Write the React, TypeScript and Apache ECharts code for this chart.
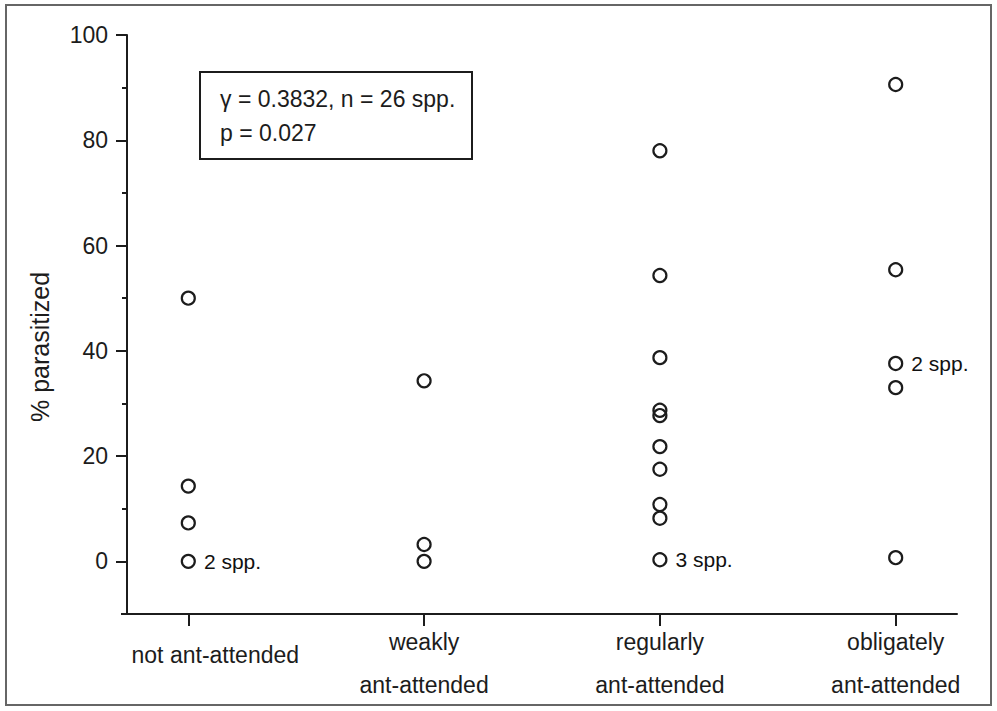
import React, { useEffect, useRef } from "react";
import * as echarts from "echarts";

// Categories (x positions 1..4)
const categories = [
  "not ant-attended",
  "weakly\nant-attended",
  "regularly\nant-attended",
  "obligately\nant-attended",
];

// % parasitized per species group
const notAttended = [50, 14.3, 7.3, 0];
const weakly = [34.3, 3.2, 0];
const regularly = [78, 54.3, 38.7, 28.7, 27.7, 21.8, 17.5, 10.8, 8.2, 0.3];
const obligately = [90.6, 55.4, 37.6, 33.0, 0.7];

// notes for points that stand for several species
const notAttendedNotes = ["", "", "", "2 spp."];
const weaklyNotes = ["", "", ""];
const regularlyNotes = ["", "", "", "", "", "", "", "", "", "3 spp."];
const obligatelyNotes = ["", "", "2 spp.", "", ""];

const yMajorTicks = [0, 20, 40, 60, 80, 100];
const xTickValues = [1, 2, 3, 4];

const statsLine1 = "γ = 0.3832, n = 26 spp.";
const statsLine2 = "p = 0.027";
const yAxisTitle = "% parasitized";

const FONT = '"Liberation Sans", Arial, Helvetica, sans-serif';
const INK = "#1c1c1c";

export default function App() {
  const ref = useRef<HTMLDivElement>(null);

  useEffect(() => {
    if (!ref.current) return;
    const chart = echarts.init(ref.current, null, { renderer: "svg" });

    const groups = [
      { vals: notAttended, notes: notAttendedNotes },
      { vals: weakly, notes: weaklyNotes },
      { vals: regularly, notes: regularlyNotes },
      { vals: obligately, notes: obligatelyNotes },
    ];
    const data: any[] = [];
    groups.forEach((g, gi) => {
      g.vals.forEach((v, i) => {
        const note = g.notes[i];
        const item: any = { value: [gi + 1, v] };
        if (note) {
          item.label = { show: true, formatter: note };
        }
        data.push(item);
      });
    });

    const option: any = {
      animation: false,
      backgroundColor: "#ffffff",
      grid: { left: 127, right: 40, top: 35, bottom: 97, containLabel: false },
      xAxis: {
        type: "value",
        min: 0.74,
        max: 4.26,
        splitLine: { show: false },
        axisLine: { show: true, onZero: false, lineStyle: { color: INK, width: 2 } },
        axisTick: {
          show: true,
          customValues: xTickValues,
          length: 12,
          lineStyle: { color: INK, width: 2 },
        },
        axisLabel: {
          show: true,
          customValues: xTickValues,
          margin: 6,
          color: INK,
          fontFamily: FONT,
          formatter: (v: number) => {
            const name = categories[Math.round(v) - 1] || "";
            const parts = name.split("\n");
            if (parts.length === 1) return "{s|" + parts[0] + "}";
            return parts.map((p) => "{d|" + p + "}").join("\n");
          },
          rich: {
            s: {
              fontSize: 23,
              lineHeight: 70,
              fontFamily: FONT,
              color: INK,
              padding: [0, 0, 0, 54],
            },
            d: { fontSize: 23, lineHeight: 43, fontFamily: FONT, color: INK },
          },
        },
      },
      yAxis: [
        {
          type: "value",
          min: -10,
          max: 100,
          interval: 10,
          splitLine: { show: false },
          axisLine: { show: true, onZero: false, lineStyle: { color: INK, width: 2 } },
          axisTick: { show: true, length: 5, lineStyle: { color: INK, width: 2 } },
          axisLabel: {
            show: true,
            margin: 19,
            fontSize: 23,
            fontFamily: FONT,
            color: INK,
            formatter: (v: number) =>
              v >= 0 && Math.abs(v % 20) < 1e-6 ? String(v) : "",
          },
        },
        {
          type: "value",
          min: -10,
          max: 100,
          position: "left",
          splitLine: { show: false },
          axisLine: { show: false, onZero: false },
          axisLabel: { show: false },
          axisTick: {
            show: true,
            customValues: yMajorTicks,
            length: 11,
            lineStyle: { color: INK, width: 2 },
          },
        },
      ],
      series: [
        {
          type: "scatter",
          yAxisIndex: 0,
          symbol: "circle",
          symbolSize: 13,
          itemStyle: {
            color: "rgba(255,255,255,0)",
            borderColor: INK,
            borderWidth: 2.2,
            opacity: 1,
          },
          label: {
            show: false,
            position: "right",
            distance: 8,
            color: "#111111",
            opacity: 1,
            fontSize: 21,
            fontFamily: FONT,
          },
          emphasis: { disabled: true },
          data,
        },
      ],
      graphic: [
        {
          type: "rect",
          shape: { x: 6, y: 5, width: 985, height: 700 },
          style: { fill: "none", stroke: "#666", lineWidth: 2 },
          silent: true,
        },
        {
          type: "line",
          shape: { x1: 121, y1: 614, x2: 128, y2: 614 },
          style: { stroke: INK, lineWidth: 2 },
          silent: true,
        },
        {
          type: "rect",
          shape: { x: 200, y: 72, width: 272, height: 87 },
          style: { fill: "none", stroke: INK, lineWidth: 2 },
          silent: true,
        },
        {
          type: "text",
          x: 220,
          y: 99,
          style: {
            text: statsLine1,
            fontSize: 23,
            fontFamily: FONT,
            fill: INK,
            align: "left",
            verticalAlign: "middle",
          },
          silent: true,
        },
        {
          type: "text",
          x: 220,
          y: 133,
          style: {
            text: statsLine2,
            fontSize: 23,
            fontFamily: FONT,
            fill: INK,
            align: "left",
            verticalAlign: "middle",
          },
          silent: true,
        },
        {
          type: "text",
          x: 40,
          y: 347,
          rotation: Math.PI / 2,
          style: {
            text: yAxisTitle,
            fontSize: 25,
            fontFamily: FONT,
            fill: INK,
            align: "center",
            verticalAlign: "middle",
          },
          silent: true,
        },
      ],
    };

    chart.setOption(option);
    return () => chart.dispose();
  }, []);

  return (
    <div
      ref={ref}
      style={{
        position: "fixed",
        left: 0,
        top: 0,
        width: 997,
        height: 711,
        background: "#fff",
      }}
    />
  );
}
